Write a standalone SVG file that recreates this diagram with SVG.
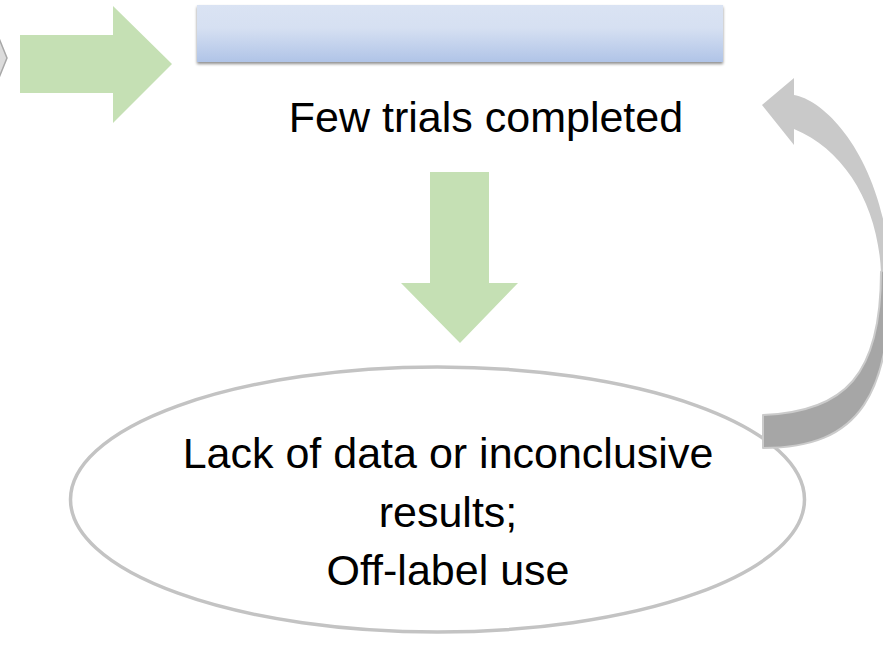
<svg xmlns="http://www.w3.org/2000/svg" width="883" height="646" viewBox="0 0 883 646">
  <defs>
    <linearGradient id="boxGrad" x1="0" y1="0" x2="0" y2="1">
      <stop offset="0" stop-color="#dae3f3"/>
      <stop offset="0.4" stop-color="#d6e0f2"/>
      <stop offset="1" stop-color="#b0c4e7"/>
    </linearGradient>
    <filter id="shadow" x="-5%" y="-30%" width="110%" height="170%">
      <feGaussianBlur in="SourceAlpha" stdDeviation="1.6"/>
      <feOffset dx="0" dy="2" result="b"/>
      <feComponentTransfer><feFuncA type="linear" slope="0.45"/></feComponentTransfer>
      <feMerge><feMergeNode/><feMergeNode in="SourceGraphic"/></feMerge>
    </filter>
    <style>
      .lbl { font-family: "Liberation Sans", Arial, sans-serif; font-size: 43px; fill: #000; text-anchor: middle; }
      .green { fill: #c5e0b4; }
      .gray { fill: #c9c9c9; }
    </style>
  </defs>
  <rect width="883" height="646" fill="#ffffff"/>

  <g id="prev-node">
    <path d="M-6,26 L7,58 L-6,90 Z" fill="#dcdcdc" stroke="#a8a8a8" stroke-width="1.5"/>
  </g>

  <g id="box-node">
    <rect x="197" y="5" width="526" height="57" fill="url(#boxGrad)" filter="url(#shadow)"/>
    <text class="lbl" x="486" y="132">Few trials completed</text>
  </g>

  <g id="ellipse-node">
    <ellipse cx="437.5" cy="499.5" rx="367" ry="132.5" fill="#ffffff" stroke="#c3c3c3" stroke-width="3.5"/>
    <text class="lbl" x="448" y="468">Lack of data or inconclusive</text>
    <text class="lbl" x="448" y="527">results;</text>
    <text class="lbl" x="448" y="585">Off-label use</text>
  </g>

  <g id="connectors">
    <path class="green" d="M20,35 L113,35 L113,6 L172,64 L113,123 L113,93 L20,93 Z"/>
    <path class="green" d="M430,172 L489,172 L489,283 L518,283 L460,343 L401,283 L430,283 Z"/>
    <path class="gray" d="M762,105 L794,78 L794,95 C825,100 880,155 890,262 L881,272 C878,205 845,150 794,129 L794,145 Z"/>
    <path d="M890,262 C893,395 860,448 763,448 L763,415 C845,412 881,375 881,272 Z" fill="#a6a6a6" stroke="#cbcbcb" stroke-width="2" stroke-linejoin="round"/>
  </g>
</svg>
